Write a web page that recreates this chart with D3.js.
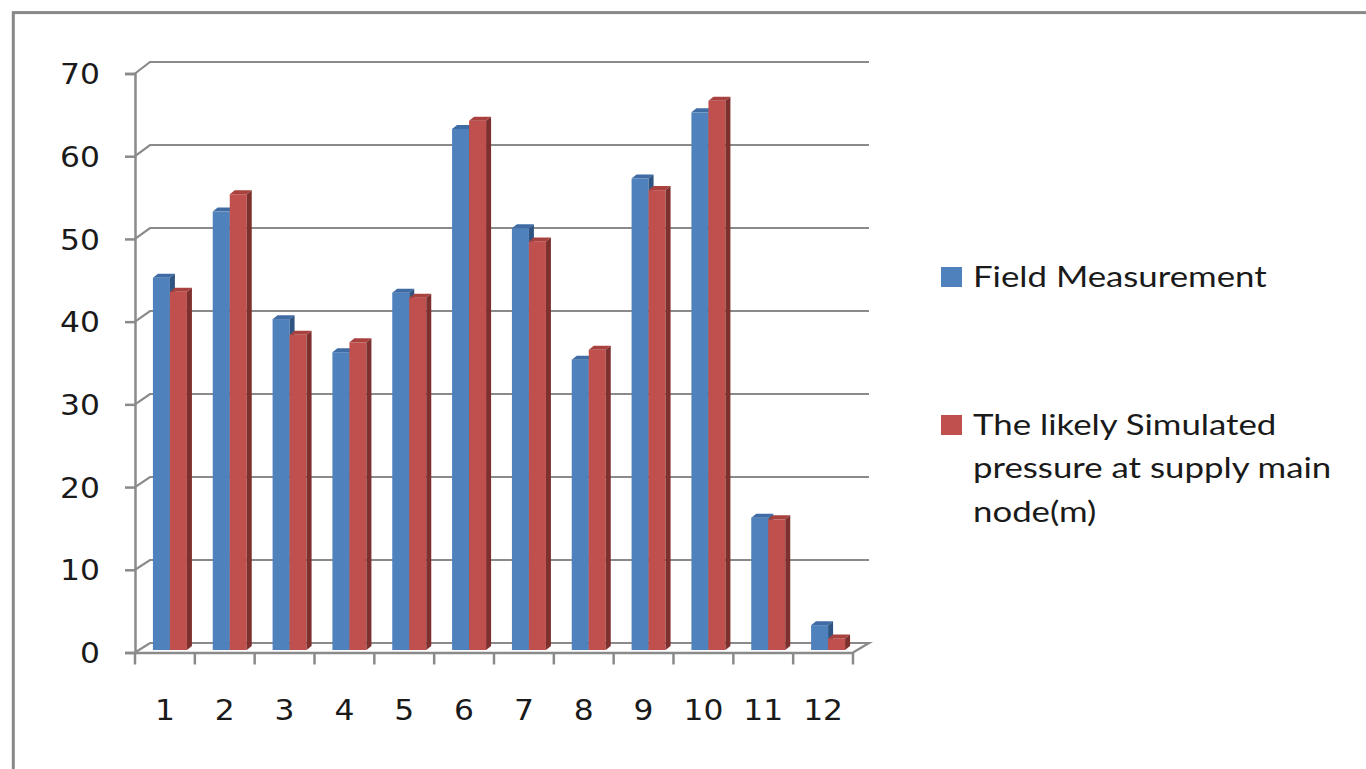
<!DOCTYPE html>
<html>
<head>
<meta charset="utf-8">
<script src="https://cdn.jsdelivr.net/npm/d3@7"></script>
<style>
  html, body { margin: 0; padding: 0; background: #ffffff; }
  svg { display: block; }
</style>
</head>
<body>
<div id="chart"></div>
<script>
// ---- data ----
const categories = ["1","2","3","4","5","6","7","8","9","10","11","12"];
const seriesNames = ["Field Measurement", "The likely Simulated pressure at supply main node(m)"];
const fieldMeasurement = [45, 53, 40, 36, 43.2, 63, 51, 35.1, 57, 65, 16, 3];
const simulatedPressure = [43.3, 55.1, 38.1, 37.2, 42.6, 64, 49.4, 36.3, 55.6, 66.4, 15.8, 1.4];
const yTicks = [0, 10, 20, 30, 40, 50, 60, 70];
const legendLines = [["Field Measurement"], ["The likely Simulated", "pressure at supply main", "node(m)"]];
const colors = {
  front: ["#4F81BD", "#C0504D"],
  top:   ["#3F6CA4", "#A9423F"],
  side:  ["#2F5482", "#7E302E"]
};

// ---- layout ----
const W = 1366, H = 769;
const svg = d3.select("#chart").append("svg").attr("width", W).attr("height", H);

// outer frame
svg.append("rect").attr("x", 13.3).attr("y", 12.6).attr("width", 1420).attr("height", 820)
  .attr("fill", "none").attr("stroke", "#888888").attr("stroke-width", 3);

const x = d3.scaleBand().domain(categories).range([135, 853]).paddingInner(0).paddingOuter(0);
const yFront = d3.scaleLinear().domain([0, 70]).range([652.5, 73.5]);
const yBack = d3.scaleLinear().domain([0, 70]).range([643, 62]);
const yBar = d3.scaleLinear().domain([0, 70]).range([650, 71]);
const xSub = d3.scaleBand().domain([0, 1]).range([0, 34]);
const backDX = 15, backRight = 869;
const barShift = 5, depthDX = 5, depthDY = 4;
const gridColor = "#8a8a8a";

// gridlines on back wall with left-wall diagonals
const grid = svg.append("g");
yTicks.forEach(t => {
  if (t === 0) return;
  grid.append("path")
    .attr("d", `M${x.range()[0]},${yFront(t)} L${x.range()[0] + backDX},${yBack(t)} L${backRight},${yBack(t)}`)
    .attr("fill", "none").attr("stroke", gridColor).attr("stroke-width", 2.2);
});
// floor
grid.append("path")
  .attr("d", `M${x.range()[0]},${yFront(0)} L${x.range()[0] + backDX},${yBack(0)} L${backRight},${yBack(0)} L${x.range()[1]},${yFront(0)}`)
  .attr("fill", "none").attr("stroke", gridColor).attr("stroke-width", 2.2);

// bars
const barW = xSub.bandwidth();
const bars = svg.append("g");
const valuesBySeries = [fieldMeasurement, simulatedPressure];
categories.forEach((c, i) => {
  [0, 1].forEach(s => {
    const v = valuesBySeries[s][i];
    const xs = x(c) + (x.bandwidth() - 34) / 2 + xSub(s) + barShift;
    const yt = yBar(v), yb = yBar(0);
    const g = bars.append("g");
    g.append("rect").attr("x", xs).attr("y", yt).attr("width", barW).attr("height", yb - yt)
      .attr("fill", colors.front[s]);
    g.append("polygon")
      .attr("points", [[xs, yt], [xs + barW, yt], [xs + barW + depthDX, yt - depthDY], [xs + depthDX, yt - depthDY]].map(p => p.join(",")).join(" "))
      .attr("fill", colors.top[s]);
    g.append("polygon")
      .attr("points", [[xs + barW, yt], [xs + barW + depthDX, yt - depthDY], [xs + barW + depthDX, yb - depthDY], [xs + barW, yb]].map(p => p.join(",")).join(" "))
      .attr("fill", colors.side[s]);
  });
});

// y axis
const sx = 1.12;
const yAxis = svg.append("g").attr("transform", `translate(${x.range()[0]},0)`)
  .call(d3.axisLeft(yFront).tickValues(yTicks).tickSize(10).tickPadding(25).tickFormat(d3.format("d")));
yAxis.select(".domain").attr("stroke", gridColor).attr("stroke-width", 2.5);
yAxis.selectAll(".tick line").attr("stroke", gridColor).attr("stroke-width", 2.5);
yAxis.selectAll(".tick text")
  .attr("font-family", "'DejaVu Sans', Verdana, sans-serif").attr("font-size", 28).attr("fill", "#1a1a1a")
  .attr("x", -35 / sx).attr("transform", `scale(${sx},1)`).attr("dy", "0.36em");

// x axis: labels at band centres
const xAxis = svg.append("g").attr("transform", `translate(0,${yFront(0)})`)
  .call(d3.axisBottom(x).tickSize(0).tickPadding(0));
xAxis.select(".domain").attr("stroke", gridColor).attr("stroke-width", 2.5);
xAxis.selectAll(".tick text")
  .attr("font-family", "'DejaVu Sans', Verdana, sans-serif").attr("font-size", 28).attr("fill", "#1a1a1a")
  .attr("dy", null).attr("y", 68).attr("transform", `scale(${sx},1)`);
// boundary ticks
const bounds = categories.map(c => x(c)).concat([x.range()[1]]);
xAxis.selectAll(".btick").data(bounds).join("line").attr("class", "btick")
  .attr("x1", d => d).attr("x2", d => d).attr("y1", 0).attr("y2", 12)
  .attr("stroke", gridColor).attr("stroke-width", 2.5);

// legend
const legend = svg.append("g");
const legendY = [287, 435];
const legendSx = 1.2;
legendLines.forEach((lines, s) => {
  legend.append("rect").attr("x", 941).attr("y", legendY[s] - 20).attr("width", 21).attr("height", 20)
    .attr("fill", colors.front[s]);
  lines.forEach((ln, j) => {
    legend.append("text")
      .attr("x", 973 / legendSx).attr("y", legendY[s] + j * 43.5)
      .attr("transform", `scale(${legendSx},1)`)
      .attr("font-family", "Lato, 'Open Sans', sans-serif").attr("font-size", 29)
      .attr("fill", "#1a1a1a").text(ln);
  });
});
</script>
</body>
</html>
